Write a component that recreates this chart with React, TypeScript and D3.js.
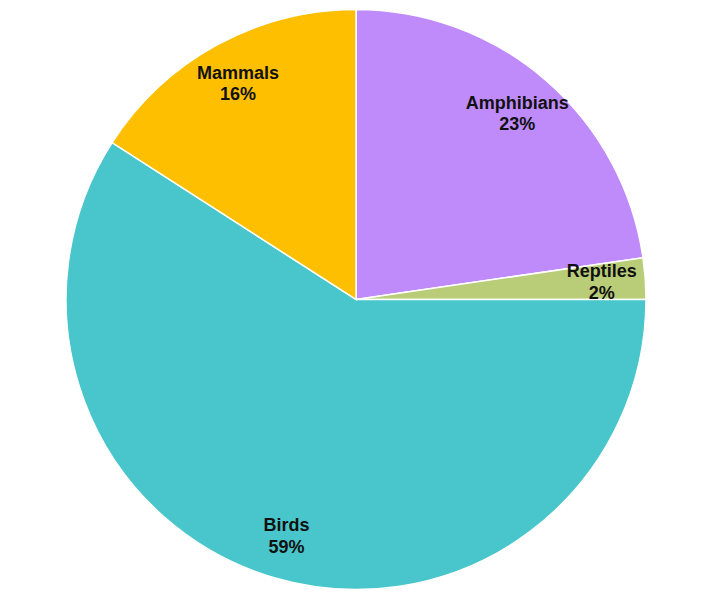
import React, { useEffect, useRef } from 'react';
import * as d3 from 'd3';

// Slice data, clockwise from 12 o'clock
const categories: string[] = ['Amphibians', 'Reptiles', 'Birds', 'Mammals'];
const shares: number[] = [22.7, 2.3, 59.1, 15.9];
const sliceColors: string[] = ['#bf8bfb', '#b9cc78', '#48c6cb', '#fdbf00'];

interface Slice {
  name: string;
  value: number;
  color: string;
}

const width = 701;
const height = 599;

const PieChart: React.FC = () => {
  const svgRef = useRef<SVGSVGElement>(null);

  useEffect(() => {
    if (!svgRef.current) return;
    const svg = d3.select(svgRef.current);
    svg.selectAll('*').remove();

    const data: Slice[] = categories.map((name, i) => ({
      name,
      value: shares[i],
      color: sliceColors[i],
    }));

    const radius = 290;
    const total = d3.sum(data, (d) => d.value);

    const pie = d3.pie<Slice>()
      .value((d) => d.value)
      .sort(null);

    const arc = d3.arc<d3.PieArcDatum<Slice>>()
      .innerRadius(0)
      .outerRadius(radius);

    const labelArc = d3.arc<d3.PieArcDatum<Slice>>()
      .innerRadius(radius * 0.85)
      .outerRadius(radius * 0.85);

    const g = svg.append('g')
      .attr('transform', `translate(356,299.5)`);

    const arcs = pie(data);

    g.selectAll('path')
      .data(arcs)
      .join('path')
      .attr('d', arc)
      .attr('fill', (d) => d.data.color)
      .attr('stroke', '#ffffff')
      .attr('stroke-width', 1.5);

    const labels = g.selectAll('text')
      .data(arcs)
      .join('text')
      .attr('transform', (d) => {
        const [x, y] = labelArc.centroid(d);
        return `translate(${x},${y})`;
      })
      .attr('text-anchor', 'middle')
      .style('font-family', '"Liberation Sans", Arial, sans-serif')
      .style('font-size', '18px')
      .style('font-weight', 'bold')
      .attr('fill', '#111111');

    labels.append('tspan')
      .attr('x', 0)
      .attr('y', '-0.25em')
      .text((d) => d.data.name);

    labels.append('tspan')
      .attr('x', 0)
      .attr('y', '0.95em')
      .text((d) => `${Math.round((d.data.value / total) * 100)}%`);
  }, []);

  return (
    <svg
      ref={svgRef}
      width={width}
      height={height}
      style={{ position: 'absolute', left: 0, top: 0, background: '#ffffff' }}
    />
  );
};

export default function App() {
  return <PieChart />;
}
